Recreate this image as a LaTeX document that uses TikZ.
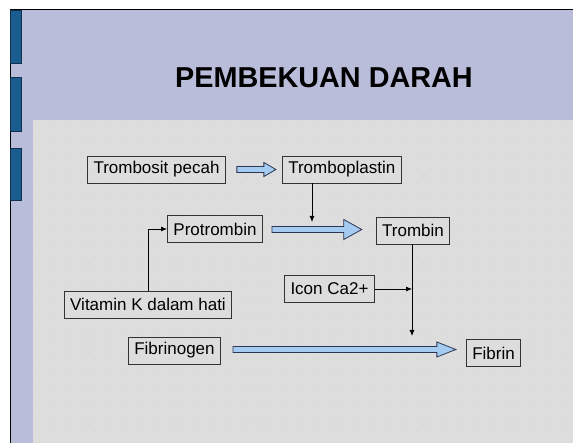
\documentclass[tikz,border=0pt]{standalone}
\usepackage{fontspec}
\setmainfont{Liberation Sans}
\usetikzlibrary{positioning, arrows.meta, calc}

\definecolor{lavender}{RGB}{185,189,217}
\definecolor{panelgray}{RGB}{221,221,221}
\definecolor{dotgray}{RGB}{205,205,205}
\definecolor{barblue}{RGB}{27,92,142}
\definecolor{arrowfill}{RGB}{165,203,240}
\definecolor{arrowline}{RGB}{45,55,85}

% fat block arrow: start, tip, head length, head half width
\newcommand{\fatarrow}[4]{%
  \filldraw[fat] ($(#1)+(0,-3)$) -- ($(#2)+(-#3,-3)$) -- ($(#2)+(-#3,-#4)$) -- (#2)
    -- ($(#2)+(-#3,#4)$) -- ($(#2)+(-#3,3)$) -- ($(#1)+(0,3)$) -- cycle;}

\begin{document}
\begin{tikzpicture}[
    x=1pt, y=-1pt,
    >=Latex,
    box/.style={draw=black!80, line width=0.8pt, inner xsep=6pt, inner ysep=0pt,
                minimum height=27pt, font=\fontsize{17}{20}\selectfont},
    bar/.style={fill=barblue, draw=barblue!55!black, line width=0.6pt},
    fat/.style={fill=arrowfill, draw=arrowline, line width=0.8pt},
    arrow/.style={-{Latex[length=6pt,width=5pt]}, line width=0.8pt},
    title/.style={font=\fontsize{28.8}{33}\selectfont\bfseries}
]
\useasboundingbox (0,0) rectangle (573,443);
% slide background
\fill[white] (0,0) rectangle (573,443);
\fill[lavender] (10,10) rectangle (573,443);
\draw[line width=1pt] (10,443) -- (10,10) -- (573,10);
\filldraw[bar] (10,10) rectangle (21,63);
\filldraw[bar] (10,77) rectangle (21,131);
\filldraw[bar] (10,148) rectangle (21,200);
\fill[panelgray] (33,120) rectangle (573,443);
\foreach \i in {0,...,36}
  \foreach \j in {0,...,21}
    \fill[dotgray] (37+\i*14.6, 125+\j*14.6) circle (0.6pt);

\node[title] (title) at (324,77.5) {PEMBEKUAN DARAH};

% boxes
\node[box] (trombosit) at (156.5,169.5) {Trombosit pecah};
\node[box, right=56pt of trombosit] (tplast) {Tromboplastin};
\node[box] (protr) at (215,229) {Protrombin};
\node[box] (trombin) at (413,230.5) {Trombin};
\node[box] (vitk) at (148,304.5) {Vitamin K dalam hati};
\node[box] (ca) at (329.5,289) {Icon Ca2+};
\node[box] (fibrinogen) at (174.5,350.5) {Fibrinogen};
\node[box] (fibrin) at (493.5,353) {Fibrin};

% block arrows
\coordinate (f1s) at ($(trombosit.east)+(11,0)$);
\coordinate (f1t) at ($(f1s -| tplast.west)+(-6,0)$);
\fatarrow{f1s}{f1t}{12}{7}
\coordinate (f2s) at ($(protr.east)+(9,0.5)$);
\coordinate (f2t) at ($(f2s -| trombin.west)+(-14,0)$);
\fatarrow{f2s}{f2t}{18}{10}
\coordinate (f3s) at ($(fibrinogen.east)+(12,-1)$);
\coordinate (f3t) at ($(f3s -| fibrin.west)+(-10,0)$);
\fatarrow{f3s}{f3t}{19}{7.5}

% thin connectors
\coordinate (k1) at (312,222);
\draw[arrow] (tplast.south -| k1) -- (k1);
\draw[arrow] (vitk.north) |- (protr.west);
\coordinate (k3) at (412,336);
\draw[arrow] (trombin.south -| k3) -- (k3);
\draw[arrow] (ca.east) -- (ca.east -| k3);
\end{tikzpicture}
\end{document}
